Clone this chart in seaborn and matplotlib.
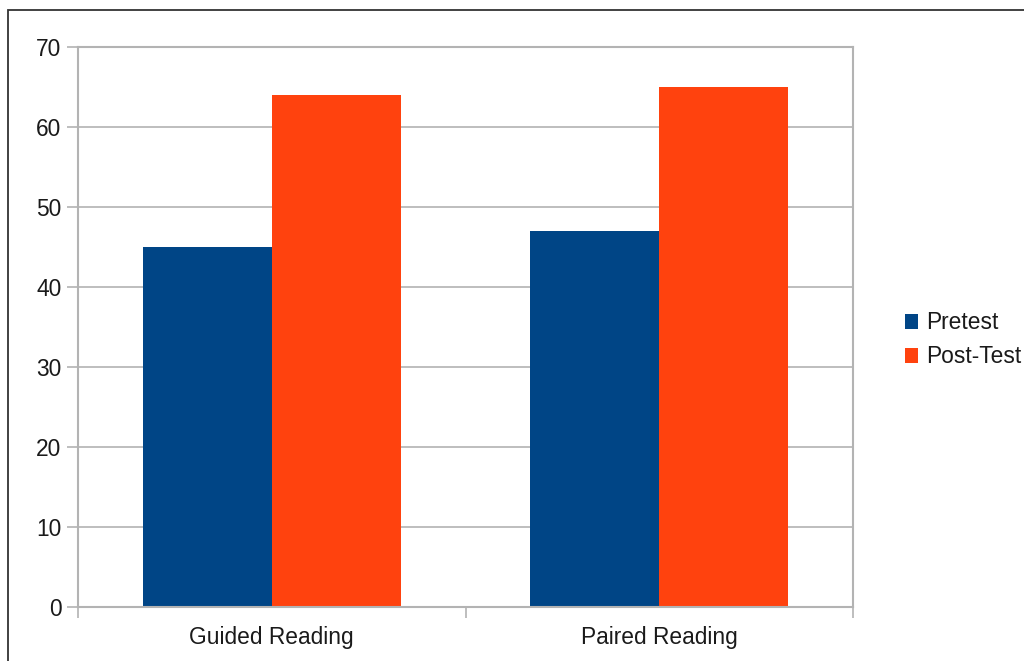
import matplotlib
matplotlib.use("Agg")
import matplotlib.pyplot as plt
import seaborn as sns
import pandas as pd
from matplotlib.patches import Rectangle

categories = ["Guided Reading", "Paired Reading"]
series_names = ["Pretest", "Post-Test"]
pretest = [45, 47]
posttest = [64, 65]
colors = ["#004586", "#ff420e"]
yticks = [0, 10, 20, 30, 40, 50, 60, 70]

df = pd.DataFrame({
    "category": categories * 2,
    "series": [series_names[0]] * 2 + [series_names[1]] * 2,
    "value": pretest + posttest,
})

sns.set_theme(style="white")
plt.rcParams["font.family"] = ["Liberation Sans", "DejaVu Sans"]

fig = plt.figure(figsize=(10.24, 6.61), dpi=100)
ax = fig.add_axes([78/1024, 54/661, 775/1024, 560/661])

sns.barplot(data=df, x="category", y="value", hue="series", palette=colors,
            width=2/3, gap=0, saturation=1, ax=ax, legend=True, edgecolor="none")

grid_c = "#b3b3b3"
fs = 16.4
ax.set_xlim(-0.5, 1.5)
ax.set_ylim(0, 70)
ax.set_yticks(yticks)
ax.set_yticklabels([str(t) for t in yticks])
ax.yaxis.grid(True, color=grid_c, linewidth=1.2)
ax.set_axisbelow(True)
for s in ax.spines.values():
    s.set_visible(True)
    s.set_color(grid_c)
    s.set_linewidth(1.5)
ax.set_xlabel("")
ax.set_ylabel("")
ax.tick_params(axis="y", which="major", length=8, width=1.2, color=grid_c,
               labelsize=fs, labelcolor="#1a1a1a", pad=4, left=True)
ax.tick_params(axis="x", which="major", length=0, labelsize=fs,
               labelcolor="#1a1a1a", pad=14)
ax.set_xticks([-0.5, 0.5, 1.5], minor=True)
ax.tick_params(axis="x", which="minor", length=8, width=1.2, color=grid_c, bottom=True)

leg = ax.legend(loc="center left", bbox_to_anchor=(1.055, 0.477), frameon=False,
                fontsize=fs, handlelength=0.6, handleheight=0.6,
                handletextpad=0.35, labelspacing=0.48, borderaxespad=0)
for t in leg.get_texts():
    t.set_color("#1a1a1a")

fig.patches.append(Rectangle((8/1024, -0.1), 1.2, 1 - 10/661 + 0.1,
                             transform=fig.transFigure, fill=False,
                             edgecolor="#333333", linewidth=1.3))

fig.savefig("out.png", dpi=100)
